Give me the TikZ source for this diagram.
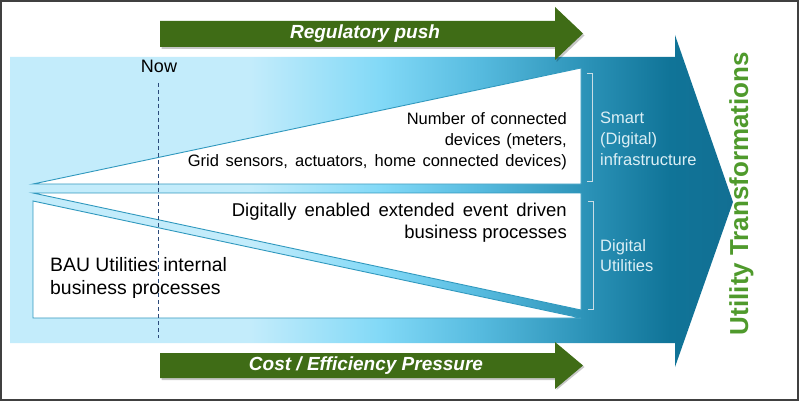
\documentclass[tikz,border=0pt]{standalone}
\usepackage{fontspec}
\setmainfont{Liberation Sans}
\definecolor{bgA}{HTML}{C3ECFB}
\definecolor{bgB}{HTML}{82D9F7}
\definecolor{bgC}{HTML}{58BCE0}
\definecolor{bgD}{HTML}{2A91B6}
\definecolor{bgE}{HTML}{107498}
\definecolor{bgF}{HTML}{126F93}
\definecolor{arrowgreen}{HTML}{3F6C16}
\definecolor{titlegreen}{HTML}{4F9A2C}
\definecolor{tealline}{HTML}{2F98BE}
\definecolor{lightlabel}{HTML}{DCEFF5}
\definecolor{bracketcol}{HTML}{C9DDE5}
\definecolor{nowline}{HTML}{2B4A7A}
\definecolor{framecol}{HTML}{404040}
\pgfdeclarehorizontalshading{bigarrowshade}{100bp}{color(0bp)=(bgA); color(41.6bp)=(bgA); color(50.6bp)=(bgB); color(57.2bp)=(bgC); color(65.1bp)=(bgD); color(70.6bp)=(bgE); color(75bp)=(bgF); color(100bp)=(bgF)}
\begin{document}
\begin{tikzpicture}[x=1pt,y=-1pt,
  greenarrow/.style={fill=arrowgreen},
  greenshadow/.style={fill=black,opacity=0.22},
  whiteshape/.style={fill=white,draw=tealline,line width=0.9pt,line join=miter},
  greentext/.style={text=white,font=\fontsize{19pt}{22pt}\selectfont\bfseries\itshape,inner sep=0pt},
  blacktext/.style={text=black,inner sep=0pt},
  sidelabel/.style={text=lightlabel,inner sep=0pt,align=left,font=\fontsize{16.5pt}{21pt}\selectfont},
  bracket/.style={draw=bracketcol,line width=0.8pt}]
\useasboundingbox (0,0) rectangle (800,401);
\fill[white] (0,0) rectangle (800,401);

% big blue arrow
\shade[shading=bigarrowshade] (10,57) -- (675,57) -- (675,35) -- (733,202) -- (675,367) -- (675,343) -- (10,343) -- cycle;

% green arrows (with faint shadow)
\fill[greenshadow] (161.5,23) -- (556.5,23) -- (556.5,9) -- (584.5,35.5) -- (556.5,62) -- (556.5,49) -- (161.5,49) -- cycle;
\fill[greenarrow] (160,21) -- (555,21) -- (555,7) -- (583,33.5) -- (555,60) -- (555,47) -- (160,47) -- cycle;
\fill[greenshadow] (161.5,355) -- (556.5,355) -- (556.5,344) -- (584.5,367) -- (556.5,390) -- (556.5,380) -- (161.5,380) -- cycle;
\fill[greenarrow] (160,353) -- (555,353) -- (555,342) -- (583,365.5) -- (555,389) -- (555,378) -- (160,378) -- cycle;

% white shapes
\draw[whiteshape] (33,184) -- (581,68) -- (581,184) -- cycle;
\draw[whiteshape] (33,193) -- (581,193) -- (581,310) -- cycle;
\draw[whiteshape] (33,201) -- (581,318) -- (33,318) -- cycle;

% brackets
\draw[bracket] (587,73) -- (592,73) -- (592,181) -- (587,181);
\draw[bracket] (588,201) -- (593,201) -- (593,309) -- (588,309);

% now line
\coordinate (nowtop) at (158,83);
\coordinate (nowbot) at (158,338);
\draw[nowline,line width=1pt,dash pattern=on 4pt off 3pt] (nowtop) -- (nowbot);

% texts
\node[blacktext,anchor=base,font=\fontsize{18pt}{21pt}\selectfont] (now) at (159,73) {Now};
\node[greentext,anchor=base] (reg) at (365,38.5) {Regulatory push};
\node[greentext,anchor=base] (cost) at (366,370.5) {Cost / Efficiency Pressure};

\node[blacktext,anchor=north east,align=right,font=\fontsize{16.5pt}{21pt}\selectfont] (devices) at (567,112)
  {\makebox[160pt][s]{Number of connected}\\\makebox[122pt][s]{devices (meters,}\\\makebox[379pt][s]{Grid sensors, actuators, home connected devices)}};
\node[blacktext,anchor=north east,align=right,font=\fontsize{18.5pt}{22pt}\selectfont] (digproc) at (567,203.3)
  {\makebox[335pt][s]{Digitally enabled extended event driven}\\business processes};
\node[blacktext,anchor=north west,align=left,font=\fontsize{19.4pt}{23pt}\selectfont] (bau) at (50,257.5)
  {BAU Utilities internal\\business processes};

\node[sidelabel,anchor=north west] (smart) at (600,111.5) {Smart\\(Digital)\\infrastructure};
\node[sidelabel,anchor=north west,font=\fontsize{16.5pt}{20pt}\selectfont] (digutil) at (600,239.7) {Digital\\Utilities};

\node[text=titlegreen,inner sep=0pt,anchor=base,rotate=90,font=\fontsize{26pt}{30pt}\selectfont\bfseries] (title) at (748,193.5) {Utility Transformations};

% frame
\draw[framecol,line width=2pt] (1,1) rectangle (798,399.5);
\end{tikzpicture}
\end{document}
